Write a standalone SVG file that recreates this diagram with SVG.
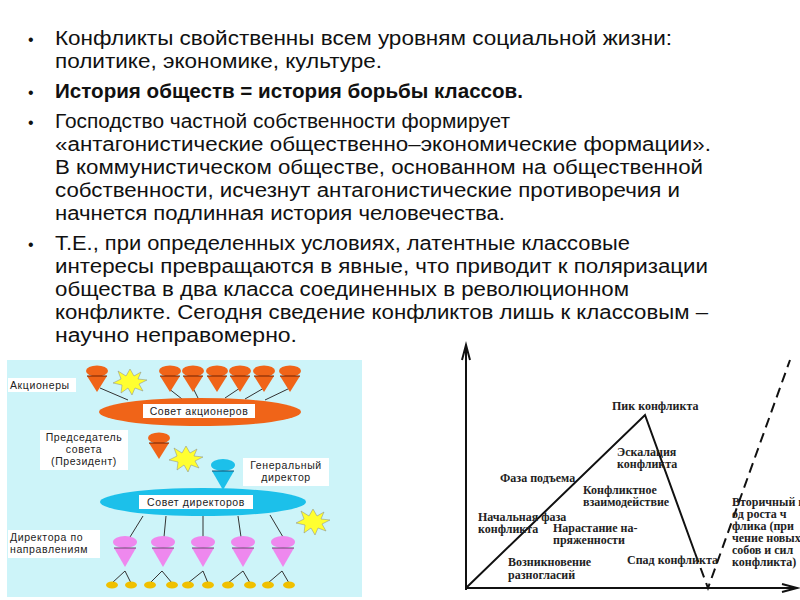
<svg xmlns="http://www.w3.org/2000/svg" width="800" height="600" viewBox="0 0 800 600">
<defs>
<style>
.t{font-family:"Liberation Sans",Arial,sans-serif;font-size:20px;fill:#111}
.b{font-weight:bold}
.bl{font-family:"Liberation Sans",sans-serif;font-size:16px;fill:#111}
.l{font-family:"Liberation Sans",Arial,sans-serif;font-size:10.5px;fill:#222;letter-spacing:0.6px}
.g{font-family:"Liberation Serif",serif;font-size:12px;font-weight:bold;fill:#222}
.ln{stroke:#333;stroke-width:1;fill:none}
.or{fill:#f06418}
.bu{fill:#1cc0ea}
.pk{fill:#ee88ee}
.st{fill:#ffff30;stroke:#888;stroke-width:0.5}
</style>
<g id="oc"><ellipse cx="0" cy="0" rx="11" ry="5.5" class="or"/><polygon points="-10,5 10,5 0,21" class="or"/><line x1="-10" y1="5" x2="10" y2="5" stroke="#702000"/></g>
<g id="pc"><ellipse cx="0" cy="0" rx="12" ry="6" class="pk"/><polygon points="-11,6 11,6 0,25" class="pk"/><line x1="-11" y1="6" x2="11" y2="6" stroke="#704070"/></g>
<polygon id="star" class="st" points="0,-13 4,-6 11,-10 8,-3 17,-2 9,2 13,9 5,6 2,13 -2,6 -9,11 -8,3 -17,1 -9,-3 -12,-11 -4,-6"/>
</defs>
<rect width="800" height="600" fill="#fff"/>
<g id="text" lengthAdjust="spacingAndGlyphs">
<text class="bl" x="28" y="45">•</text><text class="t" x="55" y="45" textLength="617" lengthAdjust="spacingAndGlyphs">Конфликты свойственны всем уровням социальной жизни:</text>
<text class="t" x="55" y="68" textLength="327" lengthAdjust="spacingAndGlyphs">политике, экономике, культуре.</text>
<text class="bl" x="28" y="98">•</text><text class="t b" x="55" y="98" textLength="468" lengthAdjust="spacingAndGlyphs">История обществ = история борьбы классов.</text>
<text class="bl" x="28" y="128">•</text><text class="t" x="55" y="128" textLength="455" lengthAdjust="spacingAndGlyphs">Господство частной собственности формирует</text>
<text class="t" x="55" y="151" textLength="656" lengthAdjust="spacingAndGlyphs">«антагонистические общественно–экономические формации».</text>
<text class="t" x="55" y="174" textLength="648" lengthAdjust="spacingAndGlyphs">В коммунистическом обществе, основанном на общественной</text>
<text class="t" x="55" y="197" textLength="625" lengthAdjust="spacingAndGlyphs">собственности, исчезнут антагонистические противоречия и</text>
<text class="t" x="55" y="220" textLength="450" lengthAdjust="spacingAndGlyphs">начнется подлинная история человечества.</text>
<text class="bl" x="28" y="250">•</text><text class="t" x="55" y="250" textLength="575" lengthAdjust="spacingAndGlyphs">Т.Е., при определенных условиях, латентные классовые</text>
<text class="t" x="55" y="273" textLength="653" lengthAdjust="spacingAndGlyphs">интересы превращаются в явные, что приводит к поляризации</text>
<text class="t" x="55" y="296" textLength="574" lengthAdjust="spacingAndGlyphs">общества в два класса соединенных в революционном</text>
<text class="t" x="55" y="319" textLength="653" lengthAdjust="spacingAndGlyphs">конфликте. Сегодня сведение конфликтов лишь к классовым –</text>
<text class="t" x="55" y="342" textLength="242" lengthAdjust="spacingAndGlyphs">научно неправомерно.</text>
</g>
<rect x="7" y="360" width="355" height="237" fill="#cdf4f9"/>
<g id="connectors-left" class="ln">
<line x1="100" y1="388" x2="128" y2="400"/><line x1="168" y1="388" x2="182" y2="399"/><line x1="193" y1="388" x2="198" y2="398"/>
<line x1="240" y1="388" x2="225" y2="398"/><line x1="264" y1="388" x2="245" y2="399"/><line x1="290" y1="388" x2="265" y2="400"/>
<line x1="143" y1="516" x2="130" y2="537"/><line x1="166" y1="516" x2="164" y2="537"/><line x1="203" y1="516" x2="203" y2="537"/><line x1="238" y1="516" x2="241" y2="537"/><line x1="270" y1="515" x2="283" y2="537"/>
<path d="M112,583 L125,571 L131,583"/><path d="M150,583 L162,571 L172,583"/><path d="M188,583 L203,571 L208,583"/><path d="M228,583 L243,571 L250,583"/><path d="M268,583 L282,571 L289,583"/>
</g>
<g id="shareholders">
<use href="#oc" x="97" y="371"/><use href="#oc" x="170" y="371"/><use href="#oc" x="193" y="371"/><use href="#oc" x="217" y="371"/><use href="#oc" x="240" y="371"/><use href="#oc" x="264" y="371"/><use href="#oc" x="290" y="371"/>
<use href="#star" x="130" y="382"/>
<rect x="8" y="378" width="68" height="14" fill="#fff"/><text class="l" x="10" y="389">Акционеры</text>
</g>
<g id="sovet-akc"><ellipse cx="200" cy="412" rx="101" ry="14" class="or"/><rect x="143" y="404" width="112" height="14" fill="#fff"/><text class="l" x="199" y="415" text-anchor="middle">Совет акционеров</text></g>
<g id="president"><use href="#oc" x="159" y="438"/><use href="#star" x="186" y="459"/>
<rect x="40" y="430" width="88" height="40" fill="#fff"/><text class="l" x="84" y="441" text-anchor="middle">Председатель</text><text class="l" x="84" y="453" text-anchor="middle">совета</text><text class="l" x="84" y="465" text-anchor="middle">(Президент)</text></g>
<g id="gendir"><ellipse cx="223" cy="465" rx="12" ry="6" class="bu"/><polygon points="212,471 234,471 223,490" class="bu"/><line x1="212" y1="471" x2="234" y2="471" stroke="#105070"/>
<rect x="243" y="458" width="86" height="28" fill="#fff"/><text class="l" x="286" y="469" text-anchor="middle">Генеральный</text><text class="l" x="286" y="481" text-anchor="middle">директор</text></g>
<g id="sovet-dir"><ellipse cx="203" cy="502" rx="103" ry="14" class="bu"/><rect x="139" y="495" width="114" height="14" fill="#fff"/><text class="l" x="196" y="506" text-anchor="middle">Совет директоров</text><use href="#star" x="313" y="522"/></g>
<g id="directors">
<rect x="8" y="530" width="92" height="28" fill="#fff"/><text class="l" x="10" y="541">Директора по</text><text class="l" x="10" y="553">направлениям</text>
<use href="#pc" x="125" y="542"/><use href="#pc" x="163" y="542"/><use href="#pc" x="203" y="542"/><use href="#pc" x="243" y="542"/><use href="#pc" x="283" y="542"/>
<g fill="#f0c000"><ellipse cx="112" cy="585" rx="6" ry="3.5"/><ellipse cx="131" cy="585" rx="6" ry="3.5"/><ellipse cx="150" cy="585" rx="6" ry="3.5"/><ellipse cx="172" cy="585" rx="6" ry="3.5"/><ellipse cx="188" cy="585" rx="6" ry="3.5"/><ellipse cx="208" cy="585" rx="6" ry="3.5"/><ellipse cx="228" cy="585" rx="6" ry="3.5"/><ellipse cx="250" cy="585" rx="6" ry="3.5"/><ellipse cx="268" cy="585" rx="6" ry="3.5"/><ellipse cx="289" cy="585" rx="6" ry="3.5"/></g>
</g>
<g id="graph-lines" fill="none" stroke="#111" stroke-width="2">
<path d="M466,590 V348 M462,360 L466,345 L470,360"/>
<path d="M466,588 H795 M782,584 L797,588 L782,592"/>
<path d="M466,588 L645,415 L695,553"/>
<path d="M695,553 L708,588 L790,360" stroke-dasharray="10,6"/>
</g>
<g id="graph-labels" class="g">
<text x="612" y="410">Пик конфликта</text>
<text x="617" y="456">Эскалация</text><text x="617" y="468">конфликта</text>
<text x="500" y="482">Фаза подъема</text>
<text x="583" y="494">Конфликтное</text><text x="583" y="506">взаимодействие</text>
<text x="478" y="521">Начальная фаза</text><text x="478" y="533">конфликта</text>
<text x="553" y="532">Нарастание на-</text><text x="553" y="544">пряженности</text>
<text x="508" y="566">Возникновение</text><text x="508" y="579">разногласий</text>
<text x="627" y="564">Спад конфликта</text>
<text x="732" y="506">Вторичный п</text><text x="732" y="518">од роста ч</text><text x="732" y="530">флика (при</text><text x="732" y="542">чение новых</text><text x="732" y="554">собов и сил</text><text x="732" y="566">конфликта)</text>
</g>
</svg>
